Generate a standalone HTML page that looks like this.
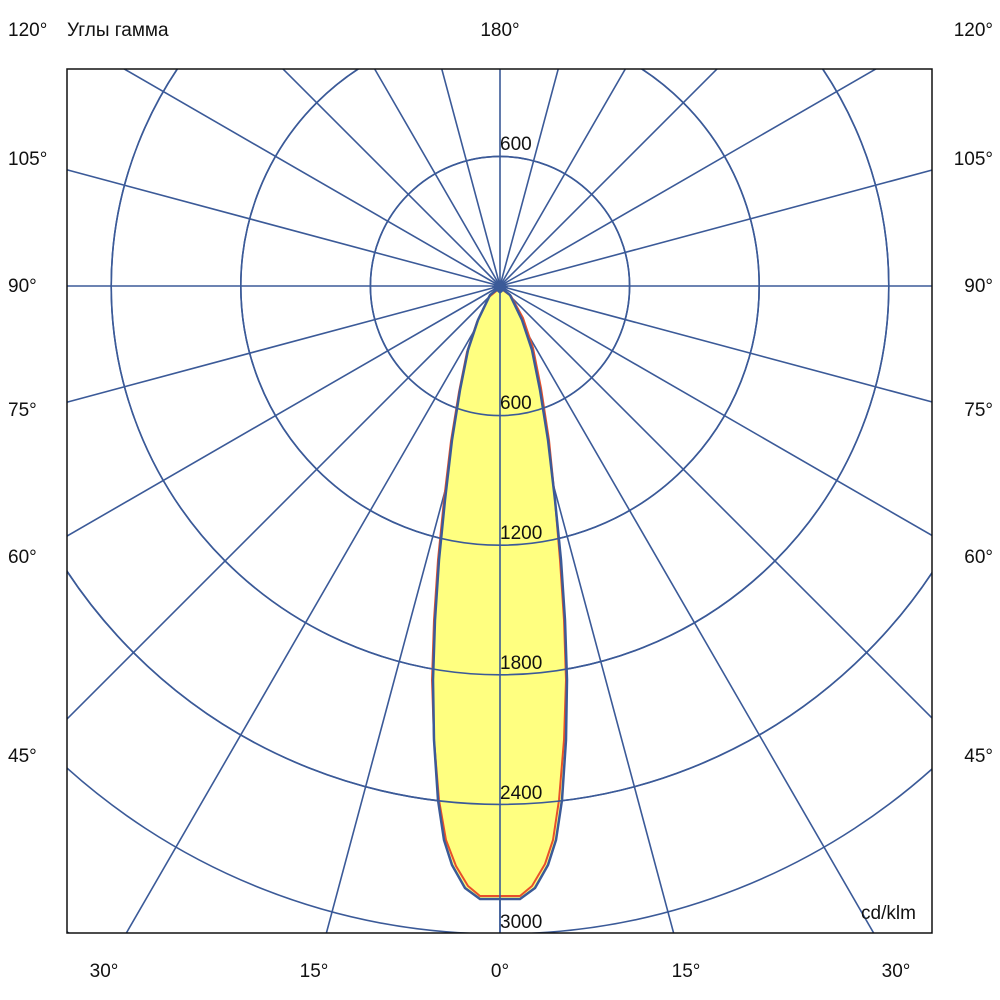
<!DOCTYPE html>
<html><head><meta charset="utf-8"><style>
html,body{margin:0;padding:0;background:#fff;overflow:hidden;width:1000px;height:1000px}
svg{display:block}
svg text{font-family:"Liberation Sans",sans-serif;font-size:19px;fill:#111}
</style></head><body>
<svg width="1000" height="1000" xmlns="http://www.w3.org/2000/svg">
<defs><clipPath id="c"><rect x="67" y="69" width="865" height="864"/></clipPath></defs>
<rect width="1000" height="1000" fill="#fff"/>
<g clip-path="url(#c)" stroke="#3b5a98" stroke-width="1.6" fill="none">
<circle cx="500" cy="286" r="129.6"/>
<circle cx="500" cy="286" r="259.2"/>
<circle cx="500" cy="286" r="388.8"/>
<circle cx="500" cy="286" r="518.4"/>
<circle cx="500" cy="286" r="648"/>
<circle cx="500" cy="286" r="777.6"/>
<circle cx="500" cy="286" r="907.2"/>
<circle cx="500" cy="286" r="1036.8"/>
<line x1="500" y1="286" x2="1700" y2="286"/>
<line x1="500" y1="286" x2="1659" y2="597"/>
<line x1="500" y1="286" x2="1539" y2="886"/>
<line x1="500" y1="286" x2="1349" y2="1135"/>
<line x1="500" y1="286" x2="1100" y2="1325"/>
<line x1="500" y1="286" x2="811" y2="1445"/>
<line x1="500" y1="286" x2="500" y2="1486"/>
<line x1="500" y1="286" x2="189" y2="1445"/>
<line x1="500" y1="286" x2="-100" y2="1325"/>
<line x1="500" y1="286" x2="-349" y2="1135"/>
<line x1="500" y1="286" x2="-539" y2="886"/>
<line x1="500" y1="286" x2="-659" y2="597"/>
<line x1="500" y1="286" x2="-700" y2="286"/>
<line x1="500" y1="286" x2="-659" y2="-25"/>
<line x1="500" y1="286" x2="-539" y2="-314"/>
<line x1="500" y1="286" x2="-349" y2="-563"/>
<line x1="500" y1="286" x2="-100" y2="-753"/>
<line x1="500" y1="286" x2="189" y2="-873"/>
<line x1="500" y1="286" x2="500" y2="-914"/>
<line x1="500" y1="286" x2="811" y2="-873"/>
<line x1="500" y1="286" x2="1100" y2="-753"/>
<line x1="500" y1="286" x2="1349" y2="-563"/>
<line x1="500" y1="286" x2="1539" y2="-314"/>
<line x1="500" y1="286" x2="1659" y2="-25"/>
</g>
<path d="M500,287 L490,295 478,320 468,350 460,390 452,440 445,500 439,560 435,620 433,680 434,740 438,800 444,840 452,865 465,888 480,899 520,899 535,888 548,865 556,840 562,800 566,740 567,680 565,620 561,560 555,500 548,440 540,390 532,350 522,320 510,295 Z" fill="#ffff80" stroke="none"/>
<path d="M500,288 L489,297 477,322 467,352 459,392 451,441 444,500 438,560 434,620 432,680 434,740 439,800 446,840 456,866 468,886 480,896 520,896 532,886 545,864 553,840 559,800 564,740 566,680 564,620 560,560 555,500 549,440 541,388 533,348 523,318 511,296 Z" fill="none" stroke="#e8502a" stroke-width="2"/>
<g clip-path="url(#c)" stroke="#3b5a98" stroke-width="1.6" fill="none">
<circle cx="500" cy="286" r="259.2"/>
<circle cx="500" cy="286" r="388.8"/>
<circle cx="500" cy="286" r="518.4"/>
<circle cx="500" cy="286" r="129.6"/>
<line x1="500" y1="286" x2="500" y2="933"/>
</g>
<path d="M500,287 L490,295 478,320 468,350 460,390 452,440 445,500 439,560 435,620 433,680 434,740 438,800 444,840 452,865 465,888 480,899 520,899 535,888 548,865 556,840 562,800 566,740 567,680 565,620 561,560 555,500 548,440 540,390 532,350 522,320 510,295 Z" fill="none" stroke="#3b5a98" stroke-width="2.5"/>
<path d="M500,280 L508,287 500,294 492,287 Z" fill="#3b5a98"/>
<rect x="67" y="69" width="865" height="864" fill="none" stroke="#111" stroke-width="1.5"/>
<text x="500" y="150">600</text>
<text x="500" y="409">600</text>
<text x="500" y="539">1200</text>
<text x="500" y="669">1800</text>
<text x="500" y="799">2400</text>
<text x="500" y="928">3000</text>
<text x="861" y="919">cd/klm</text>
<text x="8" y="36">120°</text>
<text x="67" y="36">Углы гамма</text>
<text x="500" y="36" text-anchor="middle">180°</text>
<text x="993" y="36" text-anchor="end">120°</text>
<text x="8" y="165">105°</text>
<text x="8" y="292">90°</text>
<text x="8" y="416">75°</text>
<text x="8" y="563">60°</text>
<text x="8" y="762">45°</text>
<text x="993" y="165" text-anchor="end">105°</text>
<text x="993" y="292" text-anchor="end">90°</text>
<text x="993" y="416" text-anchor="end">75°</text>
<text x="993" y="563" text-anchor="end">60°</text>
<text x="993" y="762" text-anchor="end">45°</text>
<text x="104" y="977" text-anchor="middle">30°</text>
<text x="314" y="977" text-anchor="middle">15°</text>
<text x="500" y="977" text-anchor="middle">0°</text>
<text x="686" y="977" text-anchor="middle">15°</text>
<text x="896" y="977" text-anchor="middle">30°</text>
</svg>
</body></html>
